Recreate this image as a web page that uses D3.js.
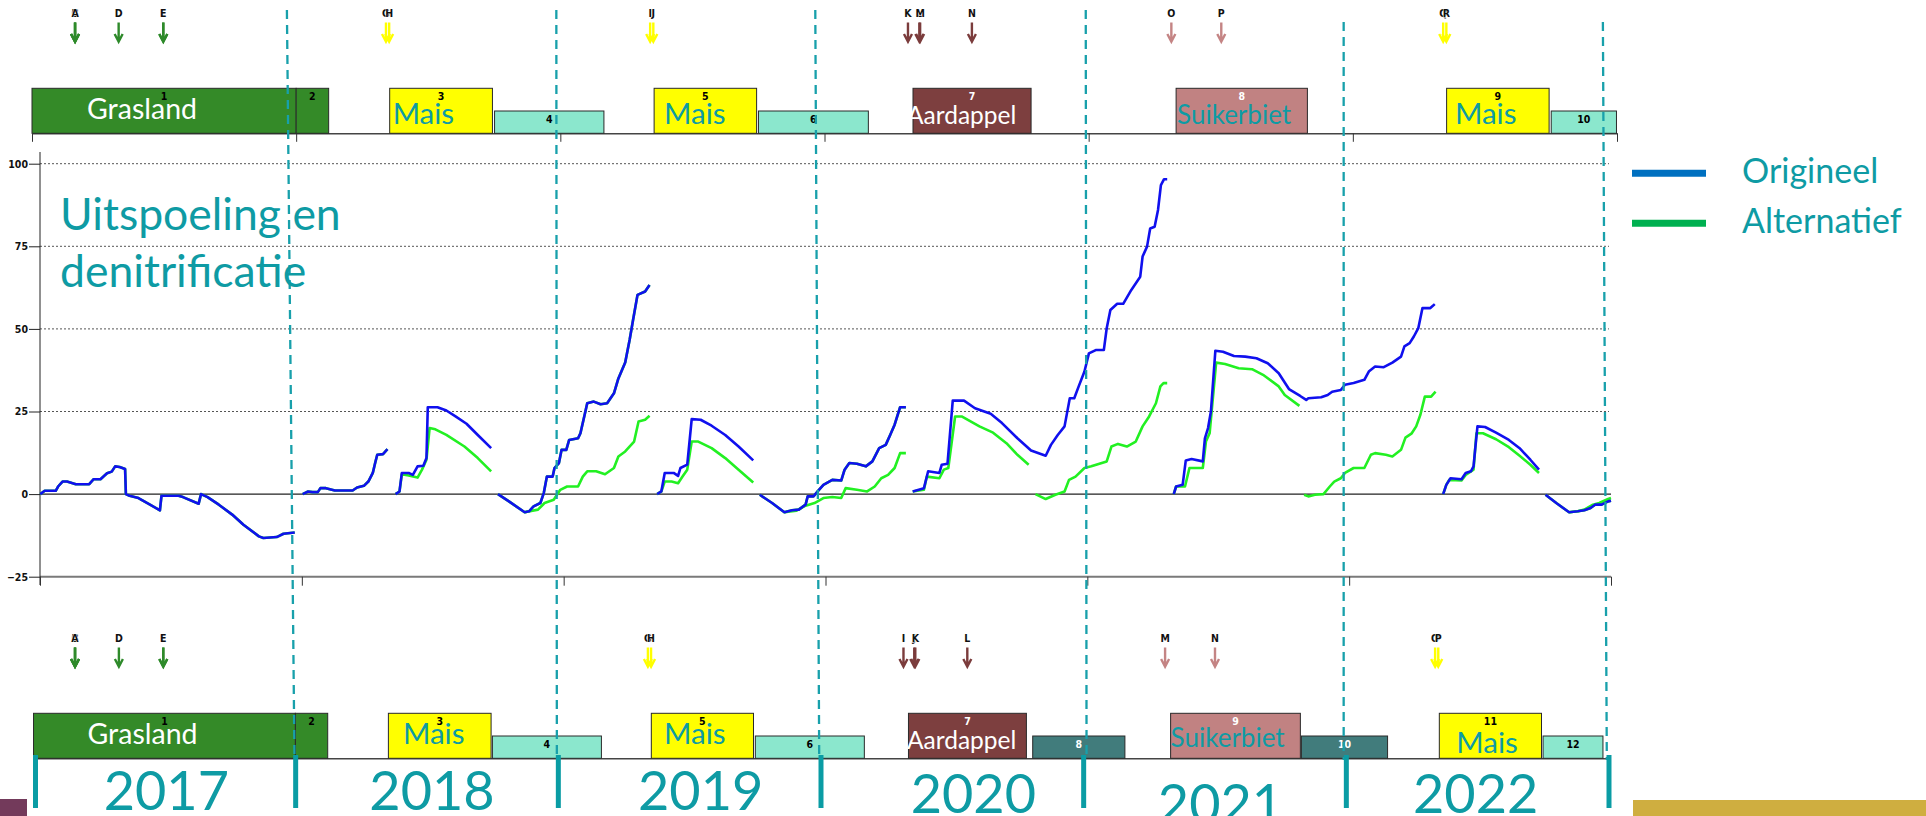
<!DOCTYPE html>
<html><head><meta charset="utf-8">
<script src="https://cdn.jsdelivr.net/npm/d3@7"></script>
<style>
html,body{margin:0;padding:0;background:#fff;}
svg{display:block;}
</style></head><body>
<svg id="c" width="1926" height="816"></svg>
<script>
// ---------------- DATA ----------------
const years = [2017, 2018, 2019, 2020, 2021, 2022];
const yearLabels = ["2017", "2018", "2019", "2020", "2021", "2022"];
const yearBounds = [2017, 2018, 2019, 2020, 2021, 2022, 2023];
const yTicks = [-25, 0, 25, 50, 75, 100];
const gridValues = [25, 50, 75, 100];
const seriesNames = ["Origineel", "Alternatief"];
const titleLines = ["Uitspoeling en", "denitrificatie"];

// Origineel (blue) segments: [decimal year, kg N/ha]
const orig2017 = [[2017.001,0],[2017.018,1],[2017.060,1],[2017.069,2.3],[2017.086,3.8],[2017.103,3.8],[2017.137,3.0],[2017.188,3.0],[2017.205,4.5],[2017.231,4.5],[2017.256,6.3],[2017.274,6.8],[2017.287,8.4],[2017.304,8.2],[2017.325,7.6],[2017.328,0],[2017.342,-0.5],[2017.376,-1.2],[2017.410,-2.7],[2017.458,-4.9],[2017.464,-0.5],[2017.529,-0.5],[2017.546,-0.9],[2017.606,-2.9],[2017.615,0],[2017.640,-0.9],[2017.683,-3.2],[2017.734,-6.2],[2017.777,-9.3],[2017.836,-12.8],[2017.853,-13.3],[2017.904,-13.0],[2017.930,-12.0],[2017.973,-11.6]];
const orig2018a = [[2018.003,0],[2018.024,0.8],[2018.041,0.6],[2018.061,0.6],[2018.071,1.8],[2018.092,1.8],[2018.126,1.1],[2018.194,1.1],[2018.211,2.0],[2018.237,2.5],[2018.254,3.8],[2018.271,6.4],[2018.280,9.4],[2018.288,11.9],[2018.310,12.1],[2018.327,13.6]];
const orig2018b = [[2018.358,0],[2018.373,0.8],[2018.382,6.4],[2018.408,6.4],[2018.424,5.8],[2018.442,8.4],[2018.464,8.6],[2018.476,10.9],[2018.481,26.3],[2018.518,26.3],[2018.552,25.3],[2018.587,23.5],[2018.629,21.3],[2018.672,17.9],[2018.723,13.9]];
const orig2019a = [[2018.749,0],[2018.791,-2.2],[2018.851,-5.5],[2018.868,-5.2],[2018.885,-3.7],[2018.911,-2.7],[2018.924,0.3],[2018.936,5.3],[2018.958,5.3],[2018.965,7.9],[2018.982,9.4],[2018.992,13.4],[2019.010,13.4],[2019.021,16.4],[2019.055,16.9],[2019.064,18.4],[2019.081,24.3],[2019.090,27.5],[2019.115,28.0],[2019.141,27.2],[2019.166,27.5],[2019.192,30.5],[2019.209,35.0],[2019.235,39.8],[2019.252,46.7],[2019.265,52.7],[2019.282,60.3],[2019.311,61.3],[2019.328,63.3]];
const orig2019b = [[2019.357,0],[2019.373,0.8],[2019.386,6.4],[2019.420,6.4],[2019.437,5.5],[2019.446,7.9],[2019.472,8.9],[2019.489,22.7],[2019.523,22.5],[2019.565,20.7],[2019.617,17.9],[2019.668,14.4],[2019.724,10.2]];
const orig2020a = [[2019.749,-0.2],[2019.796,-2.7],[2019.843,-5.5],[2019.872,-4.9],[2019.898,-4.7],[2019.924,-3.2],[2019.932,-0.7],[2019.954,-0.7],[2019.975,1.3],[2019.992,2.8],[2020.026,4.3],[2020.060,4.1],[2020.073,7.4],[2020.091,9.4],[2020.120,9.2],[2020.154,8.4],[2020.179,9.9],[2020.205,13.9],[2020.230,14.9],[2020.247,17.9],[2020.264,21.0],[2020.285,26.3],[2020.307,26.3]];
const orig2020b = [[2020.333,0.8],[2020.376,1.8],[2020.392,6.9],[2020.435,6.4],[2020.444,8.9],[2020.466,9.2],[2020.486,28.3],[2020.529,28.3],[2020.571,26.0],[2020.631,24.3],[2020.674,21.5],[2020.733,16.9],[2020.785,13.2],[2020.841,11.6],[2020.861,14.9],[2020.887,17.9],[2020.913,20.5],[2020.933,29.0],[2020.950,29.0],[2020.967,32.6],[2020.989,37.1],[2021.006,42.6],[2021.032,43.6],[2021.063,43.6],[2021.074,50.2],[2021.088,55.7],[2021.114,57.6],[2021.137,57.6],[2021.168,61.8],[2021.202,65.8],[2021.211,71.9],[2021.228,74.9],[2021.240,80.4],[2021.257,80.9],[2021.270,86.0],[2021.281,93.5],[2021.293,95.3],[2021.305,95.3]];
const orig2021 = [[2021.330,0],[2021.339,2.3],[2021.364,2.8],[2021.376,10.2],[2021.398,10.6],[2021.441,9.9],[2021.449,16.9],[2021.461,20.0],[2021.472,25.0],[2021.489,43.4],[2021.518,43.1],[2021.560,41.8],[2021.603,41.6],[2021.646,41.1],[2021.689,39.6],[2021.731,36.6],[2021.770,31.8],[2021.813,29.7],[2021.836,28.5],[2021.844,29.0],[2021.893,29.3],[2021.918,30.0],[2021.935,31.0],[2021.968,31.5],[2021.984,33.1],[2022.017,33.6],[2022.058,34.6],[2022.075,37.1],[2022.099,38.6],[2022.132,38.4],[2022.165,39.8],[2022.198,41.6],[2022.211,44.7],[2022.231,45.7],[2022.247,47.7],[2022.264,50.2],[2022.280,56.3],[2022.310,56.3],[2022.327,57.5]];
const orig2022a = [[2022.359,0],[2022.371,2.8],[2022.387,4.8],[2022.429,4.5],[2022.445,6.4],[2022.465,6.9],[2022.475,8.4],[2022.481,13.4],[2022.490,20.5],[2022.519,20.3],[2022.561,18.6],[2022.610,16.4],[2022.651,13.9],[2022.692,10.4],[2022.725,7.4]];
const orig2022b = [[2022.750,-0.2],[2022.791,-2.7],[2022.840,-5.5],[2022.873,-5.2],[2022.898,-4.9],[2022.922,-4.2],[2022.939,-3.2],[2022.964,-3.2],[2022.989,-2.2],[2023.0,-2.0]];

// Alternatief (green) segments
const alt2018b = [[2018.358,0],[2018.373,0.8],[2018.382,6.0],[2018.408,5.6],[2018.442,5.0],[2018.459,7.4],[2018.476,10.4],[2018.488,20.0],[2018.510,19.6],[2018.552,17.9],[2018.621,14.4],[2018.672,10.9],[2018.723,6.9]];
const alt2019a = [[2018.851,-5.5],[2018.902,-4.7],[2018.927,-2.7],[2018.962,-1.7],[2018.987,1.3],[2019.013,2.3],[2019.055,2.3],[2019.073,5.3],[2019.090,6.9],[2019.124,6.9],[2019.158,6.0],[2019.192,7.9],[2019.209,11.4],[2019.235,12.9],[2019.269,15.9],[2019.286,22.0],[2019.311,22.5],[2019.328,23.7]];
const alt2019b = [[2019.357,0],[2019.373,0.8],[2019.386,3.8],[2019.412,3.8],[2019.437,3.3],[2019.454,5.3],[2019.472,7.4],[2019.489,15.9],[2019.514,15.9],[2019.565,13.9],[2019.617,10.9],[2019.668,7.4],[2019.724,3.5]];
const alt2020a = [[2019.843,-5.5],[2019.889,-5.0],[2019.924,-3.5],[2019.958,-2.7],[2019.992,-1.2],[2020.026,-0.9],[2020.060,-1.2],[2020.077,1.8],[2020.120,1.3],[2020.159,0.8],[2020.188,2.3],[2020.213,4.8],[2020.239,5.8],[2020.264,7.9],[2020.285,12.4],[2020.307,12.4]];
const alt2020b = [[2020.333,0.8],[2020.376,1.3],[2020.387,5.3],[2020.435,4.8],[2020.452,7.4],[2020.469,7.9],[2020.495,23.5],[2020.520,23.5],[2020.588,20.5],[2020.640,18.6],[2020.691,15.4],[2020.733,11.9],[2020.776,8.9]];
const alt2021a = [[2020.802,0],[2020.841,-1.5],[2020.878,-0.2],[2020.913,0.8],[2020.930,4.3],[2020.955,5.3],[2020.989,7.9],[2021.015,8.4],[2021.074,9.9],[2021.092,14.4],[2021.117,15.2],[2021.151,14.4],[2021.185,15.9],[2021.211,20.5],[2021.236,23.5],[2021.262,27.5],[2021.279,32.6],[2021.291,33.6],[2021.305,33.6]];
const alt2021b = [[2021.330,0],[2021.339,2.3],[2021.373,2.3],[2021.390,7.9],[2021.441,7.9],[2021.453,15.9],[2021.467,18.4],[2021.492,39.8],[2021.526,39.4],[2021.578,38.1],[2021.629,37.8],[2021.671,36.1],[2021.731,32.6],[2021.754,30.0],[2021.810,26.7]];
const alt2022a = [[2021.828,-0.2],[2021.844,-0.7],[2021.869,-0.2],[2021.902,0],[2021.926,2.3],[2021.943,3.8],[2021.968,4.8],[2021.984,6.4],[2022.017,7.9],[2022.058,7.9],[2022.083,11.9],[2022.099,12.4],[2022.140,11.9],[2022.165,11.4],[2022.198,13.4],[2022.215,17.1],[2022.239,18.4],[2022.256,20.5],[2022.272,24.0],[2022.289,29.5],[2022.313,29.5],[2022.330,31.0]];
const alt2022b = [[2022.359,0],[2022.371,2.8],[2022.382,4.3],[2022.429,4.1],[2022.445,5.8],[2022.475,7.4],[2022.486,18.4],[2022.511,18.4],[2022.561,16.6],[2022.610,14.2],[2022.651,11.6],[2022.692,8.9],[2022.725,6.4]];
const alt2022c = [[2022.840,-5.5],[2022.873,-5.2],[2022.898,-4.7],[2022.931,-3.2],[2022.955,-2.7],[2022.989,-1.5],[2023.0,-1.2]];

const origineel = [orig2017, orig2018a, orig2018b, orig2019a, orig2019b, orig2020a, orig2020b, orig2021, orig2022a, orig2022b];
const alternatief = [orig2017, orig2018a, alt2018b, orig2019a, alt2019a, alt2019b, orig2020a, alt2020a, alt2020b, alt2021a, alt2021b, alt2022a, alt2022b, orig2022b, alt2022c];

// Crop rotation (bouwplan) – Origineel
const cropsOrig = [
  {nr:"1", crop:"gras", from:2017.000, to:2018.000, main:true},
  {nr:"2", crop:"gras", from:2018.000, to:2018.123, main:true},
  {nr:"3", crop:"mais", from:2018.354, to:2018.743, main:true},
  {nr:"4", crop:"vanggewas", from:2018.751, to:2019.165, main:false},
  {nr:"5", crop:"mais", from:2019.355, to:2019.743, main:true},
  {nr:"6", crop:"vanggewas", from:2019.750, to:2020.166, main:false},
  {nr:"7", crop:"aardappel", from:2020.335, to:2020.782, main:true},
  {nr:"8", crop:"suikerbiet", from:2021.331, to:2021.828, main:true},
  {nr:"9", crop:"mais", from:2022.355, to:2022.743, main:true},
  {nr:"10", crop:"vanggewas", from:2022.751, to:2022.998, main:false}
];
// Crop rotation – Alternatief
const cropsAlt = [
  {nr:"1", crop:"gras", from:2017.002, to:2017.999, main:true},
  {nr:"2", crop:"gras", from:2017.999, to:2018.122, main:true},
  {nr:"3", crop:"mais", from:2018.353, to:2018.744, main:true},
  {nr:"4", crop:"vanggewas", from:2018.749, to:2019.164, main:false},
  {nr:"5", crop:"mais", from:2019.354, to:2019.743, main:true},
  {nr:"6", crop:"vanggewas", from:2019.750, to:2020.165, main:false},
  {nr:"7", crop:"aardappel", from:2020.333, to:2020.782, main:true},
  {nr:"8", crop:"groenbemester", from:2020.806, to:2021.157, main:false},
  {nr:"9", crop:"suikerbiet", from:2021.331, to:2021.825, main:true},
  {nr:"10", crop:"groenbemester", from:2021.829, to:2022.157, main:false},
  {nr:"11", crop:"mais", from:2022.354, to:2022.743, main:true},
  {nr:"12", crop:"vanggewas", from:2022.749, to:2022.977, main:false}
];
// Crop name overlay labels (bar index -> name)
const cropNamesOrig = [[0,"Grasland"],[2,"Mais"],[4,"Mais"],[6,"Aardappel"],[7,"Suikerbiet"],[8,"Mais"]];
const cropNamesAlt  = [[0,"Grasland"],[2,"Mais"],[4,"Mais"],[6,"Aardappel"],[8,"Suikerbiet"],[10,"Mais"]];

// Fertilisation events (arrows); later entries are drawn on top
const eventsOrig = [
  {l:"C",t:2017.163,crop:"gras"},{l:"B",t:2017.163,crop:"gras"},{l:"A",t:2017.163,crop:"gras"},
  {l:"D",t:2017.328,crop:"gras"},{l:"F",t:2017.497,crop:"gras"},{l:"E",t:2017.497,crop:"gras"},
  {l:"G",t:2018.340,crop:"mais"},{l:"H",t:2018.352,crop:"mais"},
  {l:"I",t:2019.340,crop:"mais"},{l:"J",t:2019.352,crop:"mais"},
  {l:"K",t:2020.316,crop:"aardappel"},{l:"L",t:2020.359,crop:"aardappel"},{l:"M",t:2020.362,crop:"aardappel"},
  {l:"N",t:2020.558,crop:"aardappel"},
  {l:"O",t:2021.313,crop:"suikerbiet"},{l:"P",t:2021.502,crop:"suikerbiet"},
  {l:"Q",t:2022.342,crop:"mais"},{l:"R",t:2022.354,crop:"mais"}
];
const eventsAlt = [
  {l:"C",t:2017.160,crop:"gras"},{l:"B",t:2017.160,crop:"gras"},{l:"A",t:2017.160,crop:"gras"},
  {l:"D",t:2017.327,crop:"gras"},{l:"F",t:2017.496,crop:"gras"},{l:"E",t:2017.496,crop:"gras"},
  {l:"G",t:2019.341,crop:"mais"},{l:"H",t:2019.353,crop:"mais"},
  {l:"I",t:2020.314,crop:"aardappel"},{l:"J",t:2020.355,crop:"aardappel"},{l:"K",t:2020.359,crop:"aardappel"},
  {l:"L",t:2020.557,crop:"aardappel"},
  {l:"M",t:2021.310,crop:"suikerbiet"},{l:"N",t:2021.500,crop:"suikerbiet"},
  {l:"O",t:2022.338,crop:"mais"},{l:"P",t:2022.350,crop:"mais"}
];
// Year-divider overlay (dates at top / bottom of the drawn dashed line)
const dividers = [[2017.943,2017.972],[2018.972,2018.974],[2019.961,2019.976],[2020.994,2020.997],[2021.979,2021.979],[2022.969,2022.984]];

// ---------------- STYLE / LAYOUT ----------------
const TEAL = "#0e9ba4";
const cropFill = {gras:"#348a28", mais:"#ffff00", vanggewas:"#8be7cd", aardappel:"#7d3f3f", suikerbiet:"#c18282", groenbemester:"#417c7c"};
const cropNrColor = {gras:"#000", mais:"#000", vanggewas:"#000", aardappel:"#fff", suikerbiet:"#fff", groenbemester:"#fff"};
const arrowColor = {gras:"#2e8a2a", mais:"#ffff00", aardappel:"#7b3c3c", suikerbiet:"#c48484"};
const nameStyle = {Grasland:{fill:"#fff", size:28.5}, Mais:{fill:TEAL, size:29.5}, Aardappel:{fill:"#fff", size:24.5}, Suikerbiet:{fill:TEAL, size:26}};
const nameDxOrig = [55, 3, 10, -6, 1, 8.4];
const nameBaseOrig = [119, 123.5, 124, 124, 124, 124];
const nameDxAlt = [54, 14.6, 12.7, -1.5, 0, 17];
const nameBaseAlt = [743.5, 744, 744, 749, 747, 752.5];
const FONT = "Lato, 'Open Sans', sans-serif";
const NARROW = "'Liberation Sans Narrow', 'Arial Narrow', 'DejaVu Sans Condensed', sans-serif";

const svg = d3.select("#c");

const xMain = d3.scaleLinear().domain([2017, 2023]).range([40, 1611]);
const yMain = d3.scaleLinear().domain([-25, 100]).range([576.7, 163.7]);
const xTop = d3.scaleLinear().domain([2017, 2023]).range([32, 1617]);
const xBot = d3.scaleLinear().domain([2017, 2023]).range([33, 1609]);

// ---------------- MAIN CHART ----------------
const g = svg.append("g");
g.selectAll("line.grid").data(gridValues).join("line")
  .attr("x1", xMain(2017)).attr("x2", xMain(2023) - 2)
  .attr("y1", d => yMain(d)).attr("y2", d => yMain(d))
  .attr("stroke", "#555").attr("stroke-width", 1).attr("stroke-dasharray", "2,2");
g.append("line").attr("x1", xMain(2017)).attr("x2", xMain(2023))
  .attr("y1", yMain(0)).attr("y2", yMain(0)).attr("stroke", "#222").attr("stroke-width", 1.2);
g.append("line").attr("x1", xMain(2017)).attr("x2", xMain(2023))
  .attr("y1", yMain(-25)).attr("y2", yMain(-25)).attr("stroke", "#7a7a7a").attr("stroke-width", 2);

const yAxis = g.append("g").attr("transform", `translate(${xMain(2017)},0)`)
  .call(d3.axisLeft(yMain).tickValues(yTicks).tickSize(11).tickPadding(1).tickSizeOuter(0));
yAxis.select(".domain").remove();
yAxis.selectAll(".tick line").attr("stroke", "#222");
yAxis.selectAll(".tick text").attr("font-family", NARROW).attr("font-weight", "bold").attr("font-size", 10.5).attr("fill", "#111");
g.append("line").attr("x1", xMain(2017)).attr("x2", xMain(2017)).attr("y1", 152).attr("y2", 585)
  .attr("stroke", "#222").attr("stroke-width", 1);
const xAxis = g.append("g").attr("transform", `translate(0,${yMain(-25)})`)
  .call(d3.axisBottom(xMain).tickValues(yearBounds).tickSize(9).tickFormat(""));
xAxis.select(".domain").remove();
xAxis.selectAll(".tick line").attr("stroke", "#333");

const line = d3.line().x(d => xMain(d[0])).y(d => yMain(d[1]));
g.selectAll("path.alt").data(alternatief).join("path").attr("class", "alt")
  .attr("d", line).attr("fill", "none").attr("stroke", "#22f022").attr("stroke-width", 2.6).attr("stroke-linejoin", "round");
g.selectAll("path.orig").data(origineel).join("path").attr("class", "orig")
  .attr("d", line).attr("fill", "none").attr("stroke", "#1010ee").attr("stroke-width", 2.6).attr("stroke-linejoin", "round");

// ---------------- CROP PANELS ----------------
function panel(crops, events, names, xs, off, nameDx, nameBase) {
  const p = svg.append("g").attr("transform", `translate(0,${off})`);
  const base = 133.3, tallTop = 88.3, shortTop = 111;
  const ax = p.append("g").attr("transform", `translate(0,${base})`)
    .call(d3.axisBottom(xs).tickValues(yearBounds).tickSize(off ? 0 : 8.5).tickSizeOuter(0).tickFormat(""));
  ax.select(".domain").attr("stroke", "#444").attr("stroke-width", 1.5);
  ax.selectAll(".tick line").attr("stroke", "#333");
  p.selectAll("rect.crop").data(crops).join("rect")
    .attr("x", d => xs(d.from)).attr("width", d => xs(d.to) - xs(d.from))
    .attr("y", d => d.main ? tallTop : shortTop)
    .attr("height", d => base - (d.main ? tallTop : shortTop))
    .attr("fill", d => cropFill[d.crop]).attr("stroke", "#2a2a2a").attr("stroke-width", 1);
  p.selectAll("text.nr").data(crops).join("text")
    .attr("x", d => (xs(d.from) + xs(d.to)) / 2)
    .attr("y", d => d.main ? 100 : 123)
    .attr("text-anchor", "middle").attr("font-family", NARROW).attr("font-weight", "bold").attr("font-size", 10.5)
    .attr("fill", d => cropNrColor[d.crop]).text(d => d.nr);
  const ev = p.selectAll("g.ev").data(events).join("g").attr("transform", d => `translate(${xs(d.t)},0)`);
  ev.append("path").attr("d", "M0,22.5V39.5M-4,34L0,41.7L4,34")
    .attr("fill", "none").attr("stroke", d => arrowColor[d.crop]).attr("stroke-width", 2.4);
  ev.append("text").attr("y", 17.3).attr("text-anchor", "middle")
    .attr("font-family", NARROW).attr("font-weight", "bold").attr("font-size", 10.5).attr("fill", "#111")
    .attr("stroke", "#fff").attr("stroke-width", 1).attr("paint-order", "stroke").text(d => d.l);
  p.selectAll("text.name").data(names).join("text")
    .attr("x", (d, i) => xs(crops[d[0]].from) + nameDx[i])
    .attr("y", (d, i) => nameBase[i])
    .attr("font-family", FONT).attr("font-size", d => nameStyle[d[1]].size)
    .attr("fill", d => nameStyle[d[1]].fill).text(d => d[1]);
}
panel(cropsOrig, eventsOrig, cropNamesOrig, xTop, 0, nameDxOrig, nameBaseOrig);
panel(cropsAlt, eventsAlt, cropNamesAlt, xBot, 625, nameDxAlt, nameBaseAlt.map(v => v - 625));

// ---------------- OVERLAYS ----------------
const divTop = [10, 10, 10, 10, 22, 22];
svg.selectAll("line.div").data(dividers).join("line")
  .attr("x1", d => xMain(d[0])).attr("x2", d => xMain(d[1]))
  .attr("y1", (d, i) => divTop[i]).attr("y2", 760)
  .attr("stroke", "#18a0ab").attr("stroke-width", 2.3).attr("stroke-dasharray", "9,6");
svg.selectAll("line.yt").data(yearBounds).join("line")
  .attr("x1", d => xBot(d) + (d === 2017 ? 2.5 : 0)).attr("x2", d => xBot(d) + (d === 2017 ? 2.5 : 0))
  .attr("y1", 755).attr("y2", 808).attr("stroke", "#0a9ca4").attr("stroke-width", 5);
const yearDx = [2, 5, 11, 21, 5.5, -2];
const yearBase = [810, 810, 810, 813, 823, 813];
svg.selectAll("text.year").data(yearLabels).join("text")
  .attr("x", (d, i) => xBot(years[i] + 0.5) + yearDx[i]).attr("y", (d, i) => yearBase[i])
  .attr("text-anchor", "middle").attr("font-family", FONT).attr("font-size", 54).attr("fill", TEAL).text(d => d);

svg.selectAll("text.title").data(titleLines).join("text")
  .attr("x", 60).attr("y", (d, i) => 230 + i * 56.7)
  .attr("font-family", FONT).attr("font-size", 44.5).attr("fill", TEAL).text(d => d);

const legColors = ["#0070c0", "#00b050"];
const leg = svg.selectAll("g.leg").data(seriesNames).join("g").attr("transform", (d, i) => `translate(0,${173.3 + i * 50})`);
leg.append("line").attr("x1", 1632).attr("x2", 1706).attr("y1", 0).attr("y2", 0)
  .attr("stroke", (d, i) => legColors[i]).attr("stroke-width", 7);
leg.append("text").attr("x", 1742).attr("y", 10).attr("font-family", FONT).attr("font-size", 34)
  .attr("fill", TEAL).text(d => d);

svg.append("rect").attr("x", 0).attr("y", 799).attr("width", 27).attr("height", 17).attr("fill", "#733a5b");
svg.append("rect").attr("x", 1633).attr("y", 800).attr("width", 293).attr("height", 16).attr("fill", "#cfae40");
</script></body></html>
